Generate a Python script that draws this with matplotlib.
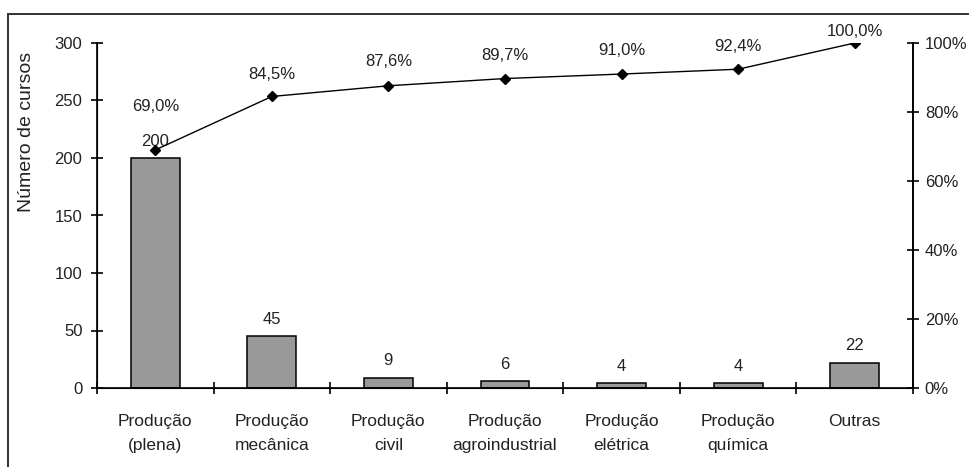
import numpy as np
import matplotlib
matplotlib.use("Agg")
import matplotlib.pyplot as plt
from matplotlib.patches import Rectangle
from matplotlib.ticker import FixedLocator, NullFormatter

plt.rcParams['font.family'] = ['Liberation Sans', 'DejaVu Sans']

# dados
categorias = ["Produção\n(plena)", "Produção\nmecânica", "Produção\ncivil",
              "Produção\nagroindustrial", "Produção\nelétrica", "Produção\nquímica",
              "Outras"]
cursos = [200, 45, 9, 6, 4, 4, 22]
acumulado = [69.0, 84.5, 87.6, 89.7, 91.0, 92.4, 100.0]

# deslocamento (px) dos rótulos de percentual acima dos pontos
desloc_pct = [43, 22, 24, 23, 24, 23, 11]

txt = '#222222'
fs = 12
fig = plt.figure(figsize=(9.69, 4.67), dpi=100)
ax = fig.add_axes([97 / 969, 1 - 388 / 467, 816 / 969, 345 / 467])

x = np.arange(len(cursos))
ax.bar(x, cursos, width=0.42, color='#999999', edgecolor='black', linewidth=1.1, zorder=2)
for xi, v in zip(x, cursos):
    ax.annotate(str(v), (xi, v), xytext=(0, 17), textcoords='offset pixels',
                ha='center', va='center', fontsize=fs, color=txt)

ax.set_xlim(-0.5, len(cursos) - 0.5)
ax.set_ylim(0, 300)
ax.set_yticks(range(0, 301, 50))
ax.tick_params(axis='y', direction='inout', length=9, width=1.2, labelsize=fs,
               labelcolor=txt, pad=6)

# marcas entre categorias, rótulos centrados
ax.xaxis.set_major_locator(FixedLocator(np.arange(-0.5, len(cursos), 1)))
ax.xaxis.set_major_formatter(NullFormatter())
ax.xaxis.set_minor_locator(FixedLocator(x))
ax.set_xticklabels(categorias, minor=True, fontsize=12.5, color=txt, linespacing=1.75)
ax.tick_params(axis='x', which='minor', length=0, pad=19)
ax.tick_params(axis='x', which='major', direction='inout', length=9, width=1.2)

ax.set_ylabel("Número de cursos", fontsize=14, color=txt)
ax.yaxis.set_label_coords(-0.076, 0.742)

ax.spines['top'].set_visible(False)
for s in ['left', 'bottom', 'right']:
    ax.spines[s].set_linewidth(1.2)

# eixo secundário com o percentual acumulado
ax2 = ax.twinx()
ax2.set_ylim(0, 100)
ax2.set_yticks(range(0, 101, 20))
ax2.set_yticklabels([f"{v}%" for v in range(0, 101, 20)])
ax2.tick_params(axis='y', direction='inout', length=9, width=1.2, labelsize=fs,
                labelcolor=txt, pad=4)
ax2.spines['top'].set_visible(False)
ax2.spines['right'].set_linewidth(1.2)
ax2.plot(x, acumulado, color='black', linewidth=1.0, marker='D', markersize=5, zorder=3)
for xi, p, d in zip(x, acumulado, desloc_pct):
    ax2.annotate(f"{p:.1f}%".replace('.', ','), (xi, p), xytext=(0, d),
                 textcoords='offset pixels', ha='center', va='center',
                 fontsize=fs, color=txt)

# moldura externa
fig.add_artist(Rectangle((8 / 969, -0.1), 1.2, 1.1 - 14 / 467, transform=fig.transFigure,
                         fill=False, edgecolor='#333333', linewidth=1.4))

fig.savefig("out.png", dpi=100)
